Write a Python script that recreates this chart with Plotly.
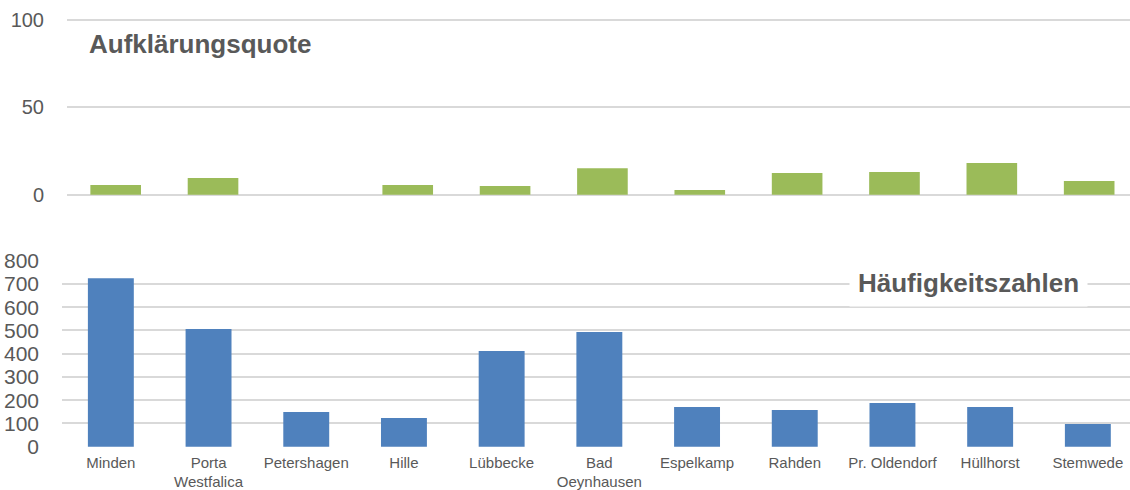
import plotly.graph_objects as go

W, H = 1130, 490

categories = ["Minden", "Porta<br>Westfalica", "Petershagen", "Hille", "Lübbecke",
              "Bad<br>Oeynhausen", "Espelkamp", "Rahden", "Pr. Oldendorf", "Hüllhorst", "Stemwede"]
aufklaerungsquote = [5.5, 9.5, 0, 5.5, 5.0, 15.2, 2.7, 12.4, 13.0, 18.1, 7.8]
haeufigkeitszahlen = [725, 506, 149, 123, 412, 493, 171, 158, 188, 171, 98]
top_ticks = [0, 50, 100]
bottom_ticks = [0, 100, 200, 300, 400, 500, 600, 700, 800]

xs = list(range(len(categories)))
GRAY = "#595959"
GRID = "#d9d9d9"
FONT = "Liberation Sans, Arial, sans-serif"

def py(px_from_top):
    return (H - px_from_top) / H

# pixel geometry of the two panels
TOP_Y0, TOP_Y100 = 194.7, 20.0
BOT_Y0, BOT_Y800 = 446.7, 260.7
t_scale = (TOP_Y0 - TOP_Y100) / 100.0
b_scale = (BOT_Y0 - BOT_Y800) / 800.0
t_pad, b_pad = 0.6, 4.0

fig = go.Figure()
fig.add_trace(go.Bar(x=xs, y=aufklaerungsquote, xaxis="x", yaxis="y",
                     marker=dict(color="#9bbb59", line=dict(width=0)), width=0.52,
                     showlegend=False))
fig.add_trace(go.Bar(x=xs, y=haeufigkeitszahlen, xaxis="x2", yaxis="y2",
                     marker=dict(color="#4f81bd", line=dict(width=0)), width=0.47,
                     showlegend=False))

fig.update_layout(
    width=W, height=H,
    margin=dict(l=0, r=0, t=0, b=0, autoexpand=False),
    paper_bgcolor="white", plot_bgcolor="white",
    font=dict(family=FONT, color=GRAY),
    xaxis=dict(domain=[67 / W, 1], range=[-0.5, -0.5 + (W - 67) / 97.35],
               showticklabels=False, showgrid=False, zeroline=False, showline=False,
               automargin=False, anchor="y"),
    yaxis=dict(domain=[py(TOP_Y0 + t_pad * t_scale), py(TOP_Y100 - t_pad * t_scale)],
               range=[-t_pad, 100 + t_pad], tickvals=top_ticks,
               showgrid=True, gridcolor=GRID, gridwidth=1.5, zeroline=False,
               showline=False, ticks="", tickfont=dict(size=20, color=GRAY),
               ticklabelstandoff=22, automargin=False, anchor="x"),
    xaxis2=dict(domain=[62 / W, 1], range=[-0.5, -0.5 + (W - 62) / 97.7],
                tickvals=xs, ticktext=categories, showgrid=False, zeroline=False,
                showline=False, ticks="", tickfont=dict(size=15, color=GRAY),
                tickangle=0, ticklabelstandoff=4, automargin=False, anchor="y2"),
    yaxis2=dict(domain=[py(BOT_Y0 + b_pad * b_scale), py(BOT_Y800 - b_pad * b_scale)],
                range=[-b_pad, 800 + b_pad], tickvals=bottom_ticks,
                showgrid=True, gridcolor=GRID, gridwidth=1.5, zeroline=False,
                showline=False, ticks="", tickfont=dict(size=21, color=GRAY),
                ticklabelstandoff=22, automargin=False, anchor="x2"),
    annotations=[
        dict(text="<b>Aufklärungsquote</b>", xref="paper", yref="paper",
             x=200 / W, y=py(44), xanchor="center", yanchor="middle", showarrow=False,
             font=dict(size=26, color=GRAY, family=FONT)),
        dict(text="<b>Häufigkeitszahlen</b>", xref="paper", yref="paper",
             x=968.5 / W, y=py(283), xanchor="center", yanchor="middle", showarrow=False,
             bgcolor="white", borderpad=8,
             font=dict(size=26, color=GRAY, family=FONT)),
    ],
)

fig.write_html("out.html")
